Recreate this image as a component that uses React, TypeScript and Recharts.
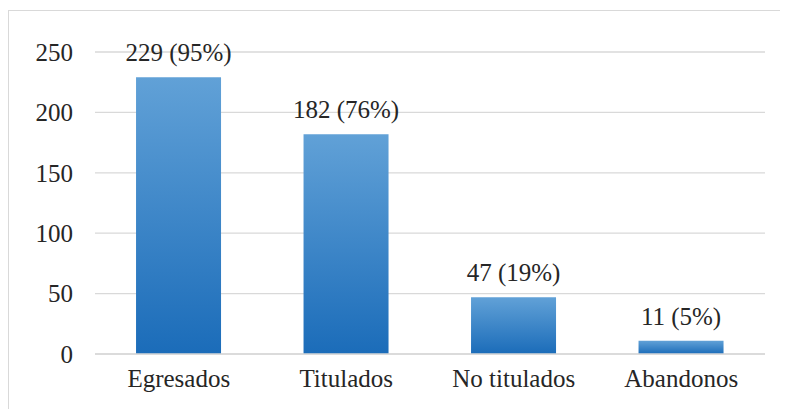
import { Bar, BarChart, CartesianGrid, LabelList, XAxis, YAxis } from 'recharts';

const categories = ['Egresados', 'Titulados', 'No titulados', 'Abandonos'];
const counts = [229, 182, 47, 11];
const percents = [95, 76, 19, 5];
const yTicks = [0, 50, 100, 150, 200, 250];

const FONT = 'Liberation Serif, DejaVu Serif, serif';
const tickStyle = { fontFamily: FONT, fontSize: 25, fill: '#262626' };

export default function App() {
  const data = categories.map((name, i) => ({ name, value: counts[i], pct: percents[i] }));

  const renderLabel = (props: any) => {
    const { x, y, width, index } = props;
    return (
      <text
        x={x + width / 2}
        y={y - 16}
        textAnchor="middle"
        style={{ fontFamily: FONT, fontSize: 25 }}
        fill="#262626"
      >
        {`${counts[index]} (${percents[index]}%)`}
      </text>
    );
  };

  return (
    <div
      style={{
        width: 779,
        height: 398,
        marginTop: 2,
        borderTop: '1px solid #d9d9d9',
        borderLeft: '1px solid #d9d9d9',
        background: '#fff',
        fontFamily: FONT,
      }}
    >
      <BarChart
        width={779}
        height={398}
        data={data}
        margin={{ top: 41, right: 23, bottom: 15, left: 0 }}
        barCategoryGap="24.5%"
        style={{ fontFamily: FONT }}
      >
        <defs>
          <linearGradient id="barFill" x1="0" y1="0" x2="0" y2="1">
            <stop offset="0%" stopColor="#61a1d7" />
            <stop offset="100%" stopColor="#1b6cb9" />
          </linearGradient>
        </defs>
        <CartesianGrid vertical={false} stroke="#d9d9d9" strokeWidth={1.3} />
        <XAxis
          dataKey="name"
          axisLine={{ stroke: '#d9d9d9', strokeWidth: 1.3 }}
          tickLine={false}
          tickMargin={9}
          height={40}
          interval={0}
          tick={{ ...tickStyle, style: { fontFamily: FONT } }}
        />
        <YAxis
          domain={[0, 250]}
          ticks={yTicks}
          axisLine={false}
          tickLine={false}
          width={86}
          tickMargin={16}
          tick={{ ...tickStyle, style: { fontFamily: FONT } }}
        />
        <Bar dataKey="value" fill="url(#barFill)" isAnimationActive={false}>
          <LabelList dataKey="value" content={renderLabel} />
        </Bar>
      </BarChart>
    </div>
  );
}
